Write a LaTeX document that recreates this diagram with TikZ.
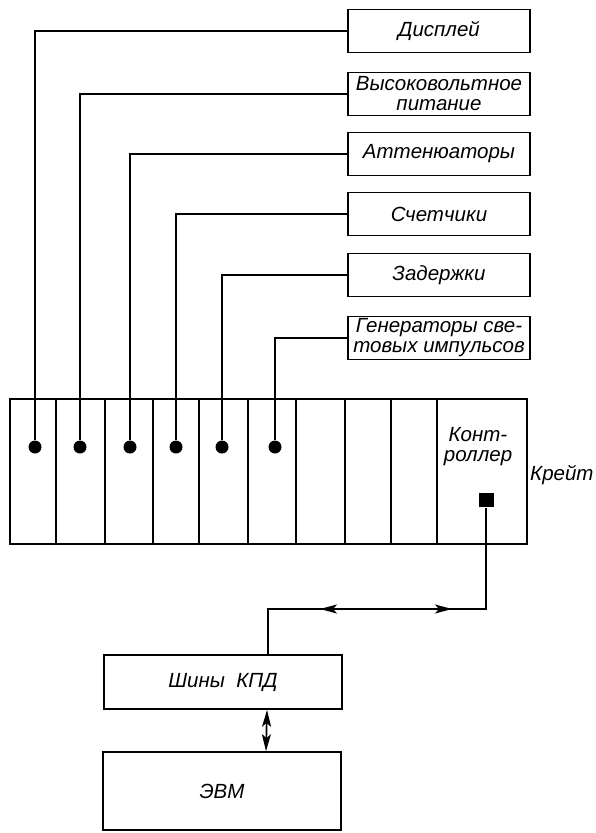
\documentclass[tikz,border=0pt]{standalone}
\usepackage{fontspec}
\setmainfont{Liberation Sans}
\usetikzlibrary{arrows.meta, positioning, calc}
\tikzset{
  every picture/.style={font=\itshape\fontsize{20.5}{20}\selectfont, line width=1.7pt},
  unit/.style={draw, minimum width=182pt, minimum height=43pt, inner sep=1pt, align=center},
  slot/.style={circle, fill, inner sep=0pt, minimum size=13pt},
  port/.style={fill, inner sep=0pt, minimum width=15pt, minimum height=14pt},
  biarrow/.style={{Stealth[length=17pt, width=9pt, inset=4pt]}-{Stealth[length=17pt, width=9pt, inset=4pt]}},
}
\begin{document}
\begin{tikzpicture}[x=1pt, y=-1pt]
  \useasboundingbox (0,0) rectangle (596,833);
  \foreach \y/\t [count=\i] in {31/Дисплей, 94/{Высоковольтное\\питание}, 154/Аттенюаторы, 214/Счетчики, 275/Задержки, 338/{Генераторы све-\\товых импульсов}}
    \node[unit] (u\i) at (439,\y) {\t};
  \node[draw, minimum width=517pt, minimum height=145pt, inner sep=0pt] (crate) at (268.5,471.5) {};
  \foreach \x in {56,105,153,199,248,296,345,391,437}
    \draw (crate.north -| \x,0) -- (crate.south -| \x,0);
  \foreach \x [count=\i] in {35,80,130,176,222,275} {
    \node[slot] (s\i) at (\x,447) {};
    \draw (s\i) |- (u\i.west);
  }
  \node[align=center] (ctl) at (478,447) {Конт-\\роллер};
  \node[port] (port) at (486,500) {};
  \node[anchor=west] (crlabel) at (526,475) {Крейт};
  \node[draw, minimum width=238pt, minimum height=54pt] (kpd) at (223,682) {Шины~~КПД};
  \node[draw, minimum width=238pt, minimum height=78pt] (evm) at (222,791) {ЭВМ};
  \coordinate (tap) at ($(kpd.north)+(45,0)$);
  \coordinate (bend) at (tap |- 0,609);
  \draw (port) |- (bend) -- (tap);
  \coordinate (al) at (320,609);
  \coordinate (ar) at (452,609);
  \draw[biarrow] (al) -- (ar);
  \draw[biarrow] ($(kpd.south)+(44,0)$) -- ($(evm.north)+(44,0)$);
\end{tikzpicture}
\end{document}
